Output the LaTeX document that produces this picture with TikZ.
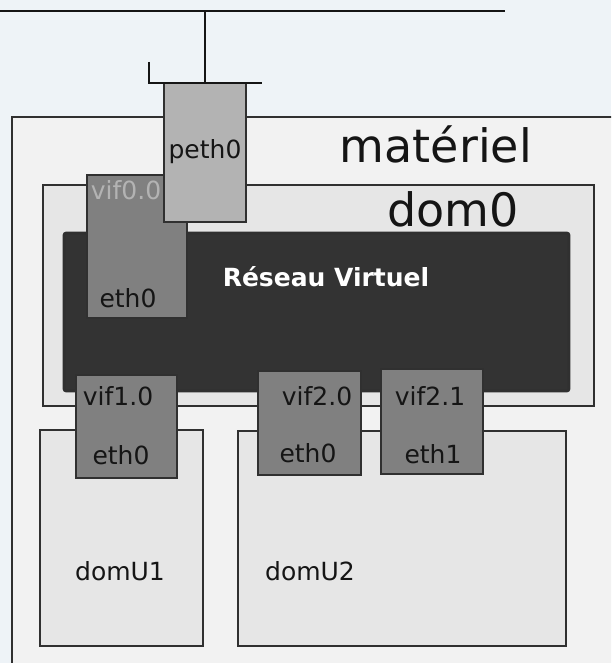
\documentclass[tikz,border=0pt]{standalone}
\usepackage{fontspec}
\setmainfont{DejaVu Sans}
\definecolor{fond}{HTML}{EEF3F7}
\definecolor{mat}{HTML}{F2F2F2}
\definecolor{dom}{HTML}{E6E6E6}
\definecolor{noirreseau}{HTML}{333333}
\definecolor{gris}{HTML}{808080}
\definecolor{grisclair}{HTML}{B3B3B3}
\definecolor{bord}{HTML}{303030}
\definecolor{texte}{HTML}{151515}
\begin{document}
\begin{tikzpicture}[x=1pt,y=-1pt,
    zone/.style={draw=bord, line width=2.6pt, inner sep=0pt, outer sep=0pt, anchor=north west},
    port/.style={zone, fill=gris, line width=2pt},
    petit/.style={anchor=base, font=\fontsize{25}{25}\selectfont, text=texte},
    grand/.style={anchor=base, font=\fontsize{46}{46}\selectfont, text=texte},
    gras/.style={anchor=base, font=\fontsize{25}{25}\selectfont\bfseries, text=white}]
    \clip (0,0) rectangle (611,663);
    \fill[fond] (0,0) rectangle (611,663);
    % boites
    \node[zone, fill=mat, minimum width=620pt, minimum height=560pt] (materiel) at (12,117) {};
    \node[zone, fill=dom, minimum width=551pt, minimum height=221pt] (dom0) at (43,185) {};
    \node[zone, fill=noirreseau, rounded corners=2pt, minimum width=505pt, minimum height=158pt] (reseau) at (64,233) {};
    \node[port, minimum width=100pt, minimum height=143pt] (vif00) at (87,175) {};
    \node[port, fill=grisclair, minimum width=82pt, minimum height=139pt] (peth0) at (164,83) {};
    \node[zone, fill=dom, minimum width=163pt, minimum height=216pt] (domU1) at (40,430) {};
    \node[zone, fill=dom, minimum width=328pt, minimum height=215pt] (domU2) at (238,431) {};
    \node[port, minimum width=101pt, minimum height=103pt] (vif10) at (76,375) {};
    \node[port, minimum width=103pt, minimum height=104pt] (vif20) at (258,371) {};
    \node[port, minimum width=102pt, minimum height=105pt] (vif21) at (381,369) {};
    % lignes du haut
    \coordinate (bus-g) at (0,11);
    \coordinate (bus-d) at (505,11);
    \draw[line width=1.6pt, texte] (bus-g) -- (bus-d);
    \draw[line width=1.6pt, texte] (peth0.north) -- (peth0.north |- bus-g);
    \draw[line width=1.6pt, texte] (149,62) -- (149,83) -- (262,83);
    % textes
    \node[grand] (t-materiel) at (436,163) {matériel};
    \node[grand] (t-dom0) at (453,226) {dom0};
    \node[gras] (t-reseau) at (326,286) {Réseau Virtuel};
    \node[petit] (t-peth0) at (205,158) {peth0};
    \node[petit, text=gris!60!white] (t-vif00) at (126,199) {vif0.0};
    \node[petit] (t-eth00) at (128,307) {eth0};
    \node[petit] (t-vif10) at (118,405) {vif1.0};
    \node[petit] (t-eth10) at (121,464) {eth0};
    \node[petit] (t-vif20) at (317,405) {vif2.0};
    \node[petit] (t-eth20) at (308,462) {eth0};
    \node[petit] (t-vif21) at (430,405) {vif2.1};
    \node[petit] (t-eth21) at (433,463) {eth1};
    \node[petit] (t-domU1) at (120,580) {domU1};
    \node[petit] (t-domU2) at (310,580) {domU2};
\end{tikzpicture}
\end{document}
